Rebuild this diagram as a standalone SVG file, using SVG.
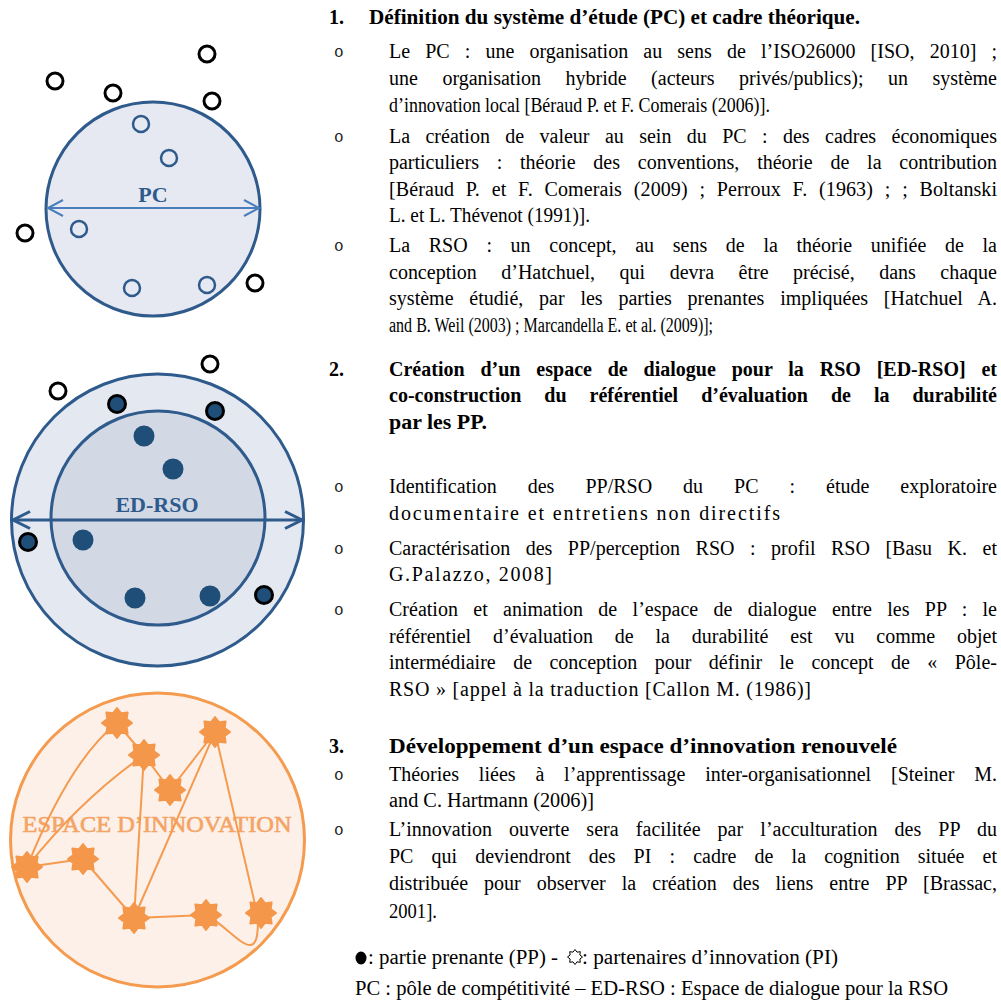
<svg xmlns="http://www.w3.org/2000/svg" width="1001" height="1001" viewBox="0 0 1001 1001">
<style>
.t{font-family:"Liberation Serif","Times New Roman",serif;font-size:20px;fill:#000}
.b{font-weight:bold}
.bu{font-family:"Liberation Mono","Courier New",monospace;font-size:16px;fill:#222}
.ob{fill:#fff;stroke:#000;stroke-width:3}
.bl{fill:none;stroke:#2e5a8c;stroke-width:2.5}
.rd{fill:#1f4e79;stroke:#000;stroke-width:3}
.fd{fill:#1f4e79}
.cn{fill:none;stroke:#f59b4f;stroke-width:2}
.st{fill:#f5974a;stroke:#f5974a;stroke-width:2;stroke-linejoin:round}
</style>
<defs>
<polygon id="star" points="0,-15 4.02,-9.7 10.61,-10.61 9.7,-4.02 15,0 9.7,4.02 10.61,10.61 4.02,9.7 0,15 -4.02,9.7 -10.61,10.61 -9.7,4.02 -15,0 -9.7,-4.02 -10.61,-10.61 -4.02,-9.7"/>
</defs>
<rect width="1001" height="1001" fill="#fff"/>

<!-- PC circle -->
<g id="pc">
<circle cx="153" cy="209" r="107" fill="#e6e9f1" stroke="#2e5a8c" stroke-width="3"/>
<g fill="none" stroke="#4a7ebb" stroke-width="2">
<line x1="48" y1="208" x2="259" y2="208"/>
<polyline points="63,200 48,208 63,216"/>
<polyline points="244,200 259,208 244,216"/>
</g>
<text x="153" y="202" text-anchor="middle" font-family="Liberation Serif, serif" font-weight="bold" font-size="22" fill="#2e5a8c">PC</text>
<circle class="bl" cx="141" cy="124" r="8"/>
<circle class="bl" cx="169" cy="158" r="8"/>
<circle class="bl" cx="79" cy="229" r="8"/>
<circle class="bl" cx="132" cy="288" r="8"/>
<circle class="bl" cx="207" cy="285" r="8"/>
<circle class="ob" cx="55" cy="81" r="8"/>
<circle class="ob" cx="113" cy="93" r="8"/>
<circle class="ob" cx="207" cy="54" r="8"/>
<circle class="ob" cx="212" cy="101" r="8"/>
<circle class="ob" cx="25" cy="233" r="8"/>
<circle class="ob" cx="255" cy="283" r="8"/>
</g>

<!-- ED-RSO circle -->
<g id="edrso">
<circle cx="157.5" cy="520" r="146" fill="#e4e8f1" stroke="#2e5a8c" stroke-width="3"/>
<circle cx="158" cy="518" r="107" fill="#d2d9e5" stroke="#2e5a8c" stroke-width="3"/>
<g fill="none" stroke="#2e5a8c" stroke-width="3">
<line x1="13" y1="520" x2="302" y2="520"/>
<polyline points="30,511.5 13,520 30,528.5"/>
<polyline points="285,511.5 302,520 285,528.5"/>
</g>
<text x="157" y="512" text-anchor="middle" font-family="Liberation Serif, serif" font-weight="bold" font-size="22" fill="#2e5a8c">ED-RSO</text>
<circle class="fd" cx="144" cy="436" r="10.5"/>
<circle class="fd" cx="173" cy="469" r="10.5"/>
<circle class="fd" cx="83" cy="540" r="10.5"/>
<circle class="fd" cx="135" cy="598" r="10.5"/>
<circle class="fd" cx="210" cy="596" r="10.5"/>
<circle class="rd" cx="117" cy="404" r="8.5"/>
<circle class="rd" cx="215" cy="411" r="8.5"/>
<circle class="rd" cx="28" cy="542" r="8.5"/>
<circle class="rd" cx="264" cy="595" r="8.5"/>
<circle class="ob" cx="58" cy="391" r="8"/>
<circle class="ob" cx="210" cy="364" r="8"/>
</g>

<!-- Espace d'innovation -->
<g id="espace">
<circle cx="157.5" cy="840" r="147" fill="#fcf0e8" stroke="#f59b4f" stroke-width="3"/>
<text x="157" y="832" text-anchor="middle" font-family="Liberation Serif, serif" font-size="23" fill="#f4a466" stroke="#f4a466" stroke-width="0.6" textLength="269" lengthAdjust="spacingAndGlyphs">ESPACE D’INNOVATION</text>
</g>
<g id="connectors">
<path class="cn" d="M27,867 Q70,760 117,723"/>
<path class="cn" d="M27,867 Q80,800 144,755"/>
<line class="cn" x1="117" y1="723" x2="144" y2="755"/>
<line class="cn" x1="144" y1="755" x2="170" y2="790"/>
<line class="cn" x1="170" y1="790" x2="215" y2="732"/>
<line class="cn" x1="215" y1="732" x2="134" y2="918"/>
<line class="cn" x1="144" y1="755" x2="134" y2="918"/>
<line class="cn" x1="215" y1="732" x2="257" y2="913"/>
<line class="cn" x1="27" y1="867" x2="83" y2="859"/>
<line class="cn" x1="83" y1="859" x2="134" y2="918"/>
<line class="cn" x1="134" y1="918" x2="206" y2="915"/>
<path class="cn" d="M206,915 C225,925 240,945 250,945 C258,945 258,930 258,915"/>
</g>
<g id="stars">
<use href="#star" class="st" x="117" y="723"/>
<use href="#star" class="st" x="144" y="755"/>
<use href="#star" class="st" x="170" y="790"/>
<use href="#star" class="st" x="215" y="732"/>
<use href="#star" class="st" x="27" y="867"/>
<use href="#star" class="st" x="83" y="859"/>
<use href="#star" class="st" x="134" y="918"/>
<use href="#star" class="st" x="206" y="915"/>
<use href="#star" class="st" x="261" y="913"/>
</g>

<!-- Text -->
<g id="section1" class="t">
<text class="t b" x="329" y="24">1.</text>
<text class="t b" x="369" y="24" textLength="491" lengthAdjust="spacingAndGlyphs">Définition du système d’étude (PC) et cadre théorique.</text>
<text class="bu" x="334" y="57">o</text>
<text x="389" y="58" word-spacing="10.1" textLength="608" lengthAdjust="spacing">Le PC : une organisation au sens de l’ISO26000 [ISO, 2010] ;</text>
<text x="389" y="85" word-spacing="19.5" textLength="608" lengthAdjust="spacing">une organisation hybride (acteurs privés/publics); un système</text>
<text x="389" y="112" textLength="381" lengthAdjust="spacingAndGlyphs">d’innovation local [Béraud P. et F. Comerais (2006)].</text>
<text class="bu" x="334" y="142">o</text>
<text x="389" y="143" word-spacing="10.4" textLength="608" lengthAdjust="spacing">La création de valeur au sein du PC : des cadres économiques</text>
<text x="389" y="169" word-spacing="12.8" textLength="608" lengthAdjust="spacing">particuliers : théorie des conventions, théorie de la contribution</text>
<text x="389" y="196" word-spacing="6.7" textLength="608" lengthAdjust="spacing">[Béraud P. et F. Comerais (2009) ; Perroux F. (1963) ; ; Boltanski</text>
<text x="389" y="222" textLength="201" lengthAdjust="spacingAndGlyphs">L. et L. Thévenot (1991)].</text>
<text class="bu" x="334" y="251">o</text>
<text x="389" y="252" word-spacing="13.7" textLength="608" lengthAdjust="spacing">La RSO : un concept, au sens de la théorie unifiée de la</text>
<text x="389" y="279" word-spacing="19.5" textLength="608" lengthAdjust="spacing">conception d’Hatchuel, qui devra être précisé, dans chaque</text>
<text x="389" y="305" word-spacing="10.7" textLength="608" lengthAdjust="spacing">système étudié, par les parties prenantes impliquées [Hatchuel A.</text>
<text x="389" y="332" textLength="324" lengthAdjust="spacingAndGlyphs">and B. Weil (2003) ; Marcandella E. et al. (2009)];</text>
</g>

<g id="section2" class="t">
<text class="t b" x="329" y="376">2.</text>
<text class="t b" x="389" y="376" word-spacing="10.8" textLength="608" lengthAdjust="spacing">Création d’un espace de dialogue pour la RSO [ED-RSO] et</text>
<text class="t b" x="389" y="402" word-spacing="18" textLength="608" lengthAdjust="spacing">co-construction du référentiel d’évaluation de la durabilité</text>
<text class="t b" x="389" y="429" textLength="98" lengthAdjust="spacingAndGlyphs">par les PP.</text>
<text class="bu" x="334" y="492">o</text>
<text x="389" y="493" word-spacing="26" textLength="608" lengthAdjust="spacing">Identification des PP/RSO du PC : étude exploratoire</text>
<text x="389" y="520" textLength="391" lengthAdjust="spacing">documentaire et entretiens non directifs</text>
<text class="bu" x="334" y="554">o</text>
<text x="389" y="555" word-spacing="10.5" textLength="608" lengthAdjust="spacing">Caractérisation des PP/perception RSO : profil RSO [Basu K. et</text>
<text x="389" y="581" textLength="163" lengthAdjust="spacing">G.Palazzo, 2008]</text>
<text class="bu" x="334" y="615">o</text>
<text x="389" y="616" word-spacing="10.3" textLength="608" lengthAdjust="spacing">Création et animation de l’espace de dialogue entre les PP : le</text>
<text x="389" y="643" word-spacing="16.9" textLength="608" lengthAdjust="spacing">référentiel d’évaluation de la durabilité est vu comme objet</text>
<text x="389" y="669" word-spacing="12.4" textLength="608" lengthAdjust="spacing">intermédiaire de conception pour définir le concept de « Pôle-</text>
<text x="389" y="696" textLength="422" lengthAdjust="spacing">RSO » [appel à la traduction [Callon M. (1986)]</text>
</g>

<g id="section3" class="t">
<text class="t b" x="329" y="753">3.</text>
<text class="t b" x="389" y="753" textLength="508" lengthAdjust="spacingAndGlyphs">Développement d’un espace d’innovation renouvelé</text>
<text class="bu" x="334" y="780">o</text>
<text x="389" y="781" word-spacing="14.8" textLength="608" lengthAdjust="spacing">Théories liées à l’apprentissage inter-organisationnel [Steiner M.</text>
<text x="389" y="807" textLength="205" lengthAdjust="spacingAndGlyphs">and C. Hartmann (2006)]</text>
<text class="bu" x="334" y="835">o</text>
<text x="389" y="836" word-spacing="12" textLength="608" lengthAdjust="spacing">L’innovation ouverte sera facilitée par l’acculturation des PP du</text>
<text x="389" y="863" word-spacing="13.1" textLength="608" lengthAdjust="spacing">PC qui deviendront des PI : cadre de la cognition située et</text>
<text x="389" y="890" word-spacing="11" textLength="608" lengthAdjust="spacing">distribuée pour observer la création des liens entre PP [Brassac,</text>
<text x="389" y="918" textLength="48" lengthAdjust="spacingAndGlyphs">2001].</text>
</g>

<g id="legend" class="t">
<ellipse cx="361" cy="958" rx="5.5" ry="6.5" fill="#000"/>
<text x="368" y="964" textLength="190" lengthAdjust="spacingAndGlyphs">: partie prenante (PP) -</text>
<use href="#star" transform="translate(575 957) scale(0.5)" fill="#fff" stroke="#000" stroke-width="2"/>
<text x="582" y="964" textLength="256" lengthAdjust="spacingAndGlyphs">: partenaires d’innovation (PI)</text>
<text x="355" y="995" textLength="593" lengthAdjust="spacingAndGlyphs">PC : pôle de compétitivité – ED-RSO : Espace de dialogue pour la RSO</text>
</g>
</svg>
